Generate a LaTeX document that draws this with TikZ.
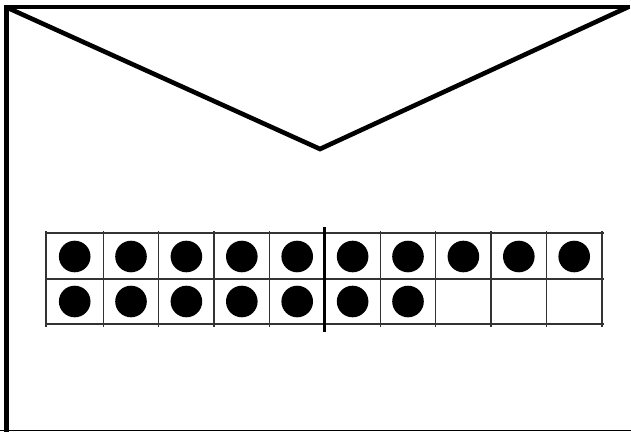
\documentclass[tikz,border=0pt]{standalone}
\begin{document}
\begin{tikzpicture}[x=1pt,y=-1pt,
  envline/.style={line width=4.6pt,line join=miter,line cap=rect},
  gridline/.style={line width=1.4pt,draw=black!80},
  dot/.style={fill=black},
  divider/.style={line width=3.6pt}]
\useasboundingbox (0,0) rectangle (631,431);
% envelope
\draw[envline] (6.5,431) -- (6.5,7) -- (628,7);
\draw[envline] (8,8) -- (320,149) -- (626,8);
\draw[line width=1.2pt] (0,430.3) -- (631,430.3);
% grid
\def\ytop{233}\def\ymid{279}\def\ybot{324}
\draw[gridline] (45,\ytop) -- (604,\ytop);
\draw[gridline] (45,\ymid) -- (604,\ymid);
\draw[gridline] (45,\ybot) -- (604,\ybot);
\draw[gridline] (46,231) -- (46,327);
\foreach \i in {1,...,10} {
  \draw[gridline] ({103.3+(\i-1)*55.4},231) -- ({103.3+(\i-1)*55.4},327);
}
% dots
\foreach \i in {0,...,9} {
  \pgfmathsetmacro{\cx}{(\i==0) ? 74.7 : 103.3+(\i-1)*55.4+27.7}
  \fill[dot] (\cx,256.5) circle (15.8);
}
\foreach \i in {0,...,6} {
  \pgfmathsetmacro{\cx}{(\i==0) ? 74.7 : 103.3+(\i-1)*55.4+27.7}
  \fill[dot] (\cx,301.5) circle (15.8);
}
\draw[divider] (324.3,227) -- (324.3,332);
\end{tikzpicture}
\end{document}
